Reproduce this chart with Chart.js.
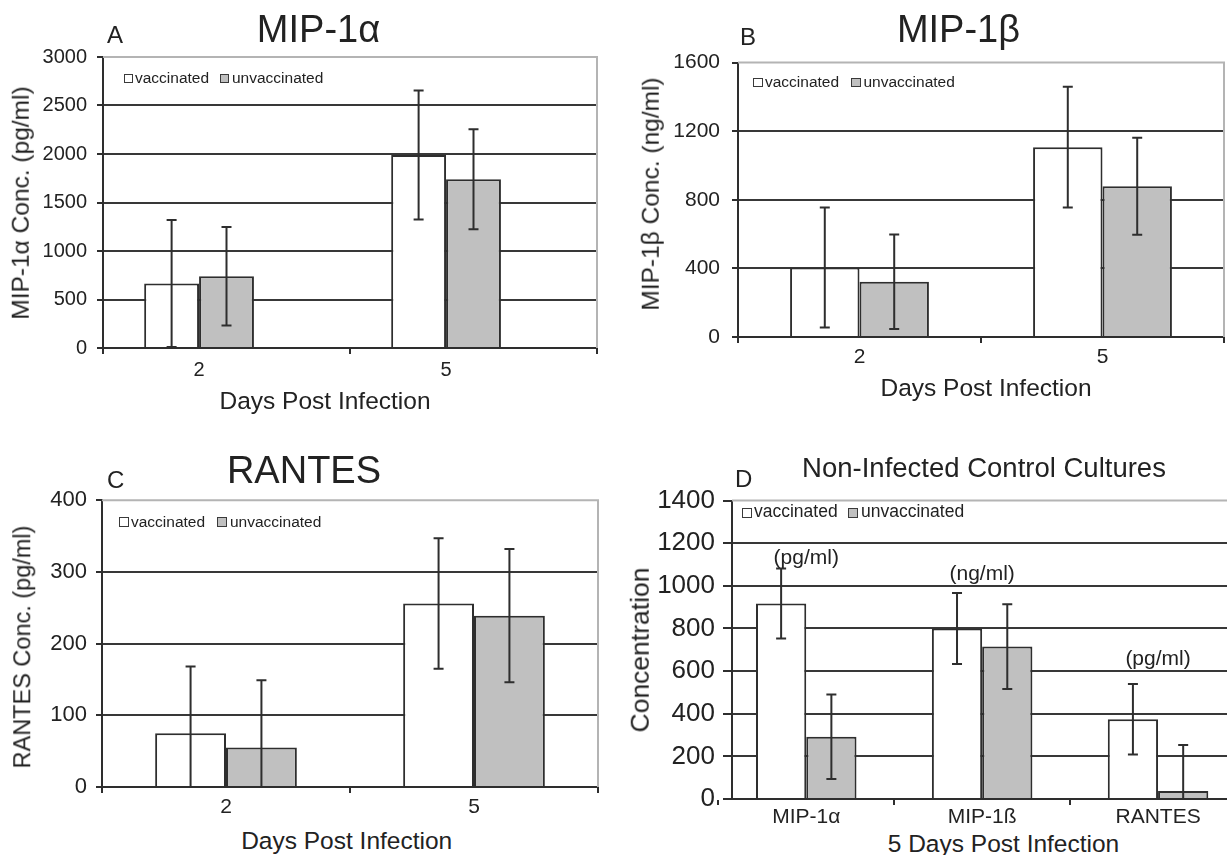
<!DOCTYPE html>
<html><head><meta charset="utf-8">
<script src="https://cdn.jsdelivr.net/npm/chart.js@4.4.1/dist/chart.umd.min.js"></script>
<style>
html,body{margin:0;padding:0;background:#fff;overflow:hidden;width:1227px;height:855px;}
#page{position:relative;width:1227px;height:855px;overflow:hidden;font-family:"Liberation Sans",Arial,sans-serif;color:#222;}
canvas{position:absolute;}
.t{position:absolute;white-space:nowrap;line-height:1;}
.sw{position:absolute;box-sizing:border-box;border:1px solid #3a3a3a;}
</style></head><body><div id="page"></div>
<script>
// ---------------- data ----------------
const seriesNames = ['vaccinated', 'unvaccinated'];
const dayLabels = ['2', '5'];

const mip1aVacc = [665, 1990];
const mip1aVaccErr = [655, 665];
const mip1aUnvacc = [740, 1740];
const mip1aUnvaccErr = [508, 515];

const mip1bVacc = [405, 1107];
const mip1bVaccErr = [350, 352];
const mip1bUnvacc = [322, 879];
const mip1bUnvaccErr = [275, 283];

const rantesVacc = [75, 256];
const rantesVaccErr = [93, 91];
const rantesUnvacc = [55, 239];
const rantesUnvaccErr = [94, 93];

const controlLabels = ['MIP-1α', 'MIP-1ß', 'RANTES'];
const controlVacc = [917, 800, 374];
const controlVaccErr = [164, 167, 165];
const controlUnvacc = [292, 715, 38];
const controlUnvaccErr = [198, 199, 215];
const controlUnits = ['(pg/ml)', '(ng/ml)', '(pg/ml)'];
const controlUnitsAt = [1130, 1053, 656];

const yTicksA = {max: 3000, step: 500};
const yTicksB = {max: 1600, step: 400};
const yTicksC = {max: 400, step: 100};
const yTicksD = {max: 1400, step: 200};

// ---------------- helpers ----------------
const FONT = '"Liberation Sans", Arial, sans-serif';
const page = document.getElementById('page');
const DARK = '#2e2e2e';
const GRID = '#383838';
const FRAME = '#b4b4b4';
const GRAY = '#c0c0c0';

function text(str, cx, baseline, size, extra) {
  const d = document.createElement('div');
  d.className = 't'; d.textContent = str;
  d.style.fontSize = size + 'px';
  d.style.top = (baseline - 0.8465 * size) + 'px';
  d.style.left = cx + 'px';
  d.style.transform = 'translateX(-50%)';
  if (extra) Object.assign(d.style, extra);
  page.appendChild(d);
  return d;
}
function ltext(str, x, baseline, size) {
  const d = document.createElement('div');
  d.className = 't'; d.textContent = str;
  d.style.fontSize = size + 'px';
  d.style.top = (baseline - 0.8465 * size) + 'px';
  d.style.left = x + 'px';
  page.appendChild(d);
}
function vtext(str, cx, cy, size) {
  const d = document.createElement('div');
  d.className = 't'; d.textContent = str;
  d.style.fontSize = size + 'px';
  d.style.left = cx + 'px'; d.style.top = cy + 'px';
  d.style.transform = 'translate(-50%,-50%) rotate(-90deg)';
  page.appendChild(d);
}
function swatch(x, y, s, fill) {
  const d = document.createElement('div');
  d.className = 'sw';
  Object.assign(d.style, {left: x + 'px', top: y + 'px', width: s + 'px', height: s + 'px', background: fill});
  page.appendChild(d);
}
function legend(l) {
  swatch(l.b1, l.base - l.box, l.box, '#ffffff');
  ltext(seriesNames[0], l.t1, l.base, l.size);
  swatch(l.b2, l.base - l.box, l.box, GRAY);
  ltext(seriesNames[1], l.b2 + l.box + 3, l.base, l.size);
}

// ---------------- plugins ----------------
const errorBars = {
  id: 'errorBars',
  afterDatasetsDraw(chart) {
    const ctx = chart.ctx, y = chart.scales.y;
    chart.data.datasets.forEach((ds, i) => {
      if (!ds.errors) return;
      const meta = chart.getDatasetMeta(i);
      meta.data.forEach((bar, j) => {
        const v = ds.data[j], e = ds.errors[j];
        if (v == null || e == null) return;
        const top = y.getPixelForValue(v + e);
        const low = v - e;
        const clipped = low <= y.min;
        const bot = y.getPixelForValue(Math.max(low, y.min));
        ctx.save();
        ctx.strokeStyle = DARK; ctx.lineWidth = 2;
        ctx.beginPath();
        ctx.moveTo(bar.x, top); ctx.lineTo(bar.x, bot);
        ctx.moveTo(bar.x - 5, top); ctx.lineTo(bar.x + 5, top);
        if (!clipped) { ctx.moveTo(bar.x - 5, bot); ctx.lineTo(bar.x + 5, bot); }
        ctx.stroke();
        ctx.restore();
      });
    });
  }
};
const frame = {
  id: 'frame',
  beforeDatasetsDraw(chart) {
    const {ctx, chartArea: a} = chart;
    ctx.save();
    ctx.strokeStyle = FRAME; ctx.lineWidth = 2;
    ctx.beginPath();
    ctx.moveTo(a.left, a.top); ctx.lineTo(a.right, a.top); ctx.lineTo(a.right, a.bottom);
    ctx.stroke();
    ctx.restore();
  }
};
const catShift = {
  id: 'catShift',
  afterLayout(chart, args, opts) {
    const px = opts && opts.px;
    if (!px) return;
    const s = chart.scales.x;
    s._startPixel -= px;
    s._length += px;
  }
};
const unitLabels = {
  id: 'unitLabels',
  afterDatasetsDraw(chart, args, opts) {
    if (!opts || !opts.labels) return;
    const {ctx} = chart, x = chart.scales.x, y = chart.scales.y;
    ctx.save();
    ctx.fillStyle = '#222';
    ctx.font = opts.size + 'px ' + FONT;
    ctx.textAlign = 'center'; ctx.textBaseline = 'middle';
    opts.labels.forEach((t, i) => ctx.fillText(t, x.getPixelForValue(i), y.getPixelForValue(opts.at[i])));
    ctx.restore();
  }
};

function makeChart(cfg) {
  const c = document.createElement('canvas');
  c.width = cfg.w; c.height = cfg.h;
  Object.assign(c.style, {left: cfg.x + 'px', top: cfg.y + 'px', width: cfg.w + 'px', height: cfg.h + 'px'});
  page.appendChild(c);
  const datasets = [
    {label: seriesNames[0], data: cfg.vacc, errors: cfg.vaccErr, backgroundColor: '#ffffff', borderColor: DARK, borderWidth: 2},
    {label: seriesNames[1], data: cfg.unvacc, errors: cfg.unvaccErr, backgroundColor: GRAY, borderColor: DARK, borderWidth: 2}
  ];
  if (cfg.spacer) datasets.push({label: '', data: cfg.labels.map(() => null), backgroundColor: 'rgba(0,0,0,0)', borderWidth: 0});
  return new Chart(c, {
    type: 'bar',
    data: {labels: cfg.labels, datasets},
    plugins: [frame, errorBars, catShift, unitLabels],
    options: {
      responsive: false, animation: false, devicePixelRatio: 1,
      datasets: {bar: {barPercentage: 1, categoryPercentage: cfg.catPct}},
      layout: {padding: {left: 0, top: 20, right: cfg.padR, bottom: 0}},
      plugins: {
        legend: {display: false}, tooltip: {enabled: false}, title: {display: false},
        catShift: {px: cfg.shift || 0},
        unitLabels: cfg.units || {}
      },
      scales: {
        x: {
          type: 'category', offset: true,
          grid: {offset: true, drawOnChartArea: false, drawTicks: true, tickLength: 6, tickColor: DARK, tickWidth: 2, color: DARK, lineWidth: 2},
          border: {display: true, color: DARK, width: 2},
          ticks: {font: {family: FONT, size: cfg.xFont}, color: '#222', padding: cfg.xPad, labelOffset: cfg.labelOffset || 0, maxRotation: 0, autoSkip: false},
          afterFit: s => { s.height = cfg.xH; }
        },
        y: {
          min: 0, max: cfg.ticks.max,
          ticks: {stepSize: cfg.ticks.step, font: {family: FONT, size: cfg.yFont}, color: '#222', padding: cfg.yPad, autoSkip: false,
                  callback: v => String(v)},
          grid: {color: ctx => (ctx.tick && ctx.tick.value === cfg.ticks.max) ? 'rgba(0,0,0,0)' : GRID, lineWidth: 2, tickLength: cfg.yTick || 6, tickColor: DARK, tickWidth: 2, drawTicks: true},
          border: {display: true, color: DARK, width: 2},
          afterFit: s => { s.width = cfg.yW; }
        }
      }
    }
  });
}

// ---------------- Panel A ----------------
makeChart({x: 13, y: 35, w: 589, h: 353, padR: 5, yW: 90, xH: 40,
  labels: dayLabels, vacc: mip1aVacc, vaccErr: mip1aVaccErr, unvacc: mip1aUnvacc, unvaccErr: mip1aUnvaccErr,
  spacer: true, catPct: 3 / 4.5, labelOffset: -27.5, ticks: yTicksA, yFont: 20, yPad: 10, xFont: 20, xPad: 4});
text('MIP-1α', 318.5, 42, 38);
ltext('A', 107, 43, 24);
legend({b1: 124, t1: 135, b2: 220, base: 83, box: 9, size: 15.5});
text('Days Post Infection', 325, 410, 24.5);
vtext('MIP-1α Conc. (pg/ml)', 21, 203, 24.5);

// ---------------- Panel B ----------------
makeChart({x: 648, y: 38, w: 579, h: 339, padR: 3, yW: 90, xH: 40,
  labels: dayLabels, vacc: mip1bVacc, vaccErr: mip1bVaccErr, unvacc: mip1bUnvacc, unvaccErr: mip1bUnvaccErr,
  catPct: 2 / 3.5, ticks: yTicksB, yFont: 21, yPad: 12, xFont: 21, xPad: 2});
text('MIP-1β', 958.5, 41.7, 38);
ltext('B', 740, 45, 24);
legend({b1: 753, t1: 765, b2: 851, base: 87, box: 9.5, size: 15.5});
text('Days Post Infection', 986, 397, 24.5);
vtext('MIP-1β Conc. (ng/ml)', 651, 193.5, 24.5);

// ---------------- Panel C ----------------
makeChart({x: 12, y: 478, w: 591, h: 349, padR: 5, yW: 90, xH: 40,
  labels: dayLabels, vacc: rantesVacc, vaccErr: rantesVaccErr, unvacc: rantesUnvacc, unvaccErr: rantesUnvaccErr,
  catPct: 2 / 3.5, ticks: yTicksC, yFont: 22, yPad: 9, xFont: 21, xPad: 2});
text('RANTES', 304, 483, 38);
ltext('C', 107, 488, 24);
legend({b1: 119, t1: 131, b2: 217, base: 527, box: 10, size: 15.5});
text('Days Post Infection', 346.7, 850, 24.5);
vtext('RANTES Conc. (pg/ml)', 23, 647, 23.5);

// ---------------- Panel D ----------------
makeChart({x: 642, y: 477, w: 604, h: 352, padR: 0, yW: 90, xH: 30,
  labels: controlLabels, vacc: controlVacc, vaccErr: controlVaccErr, unvacc: controlUnvacc, unvaccErr: controlUnvaccErr,
  catPct: 2 / 3.5, shift: 13.7, ticks: yTicksD, yFont: 26, yPad: 8, yTick: 9, xFont: 21, xPad: 0,
  units: {labels: controlUnits, at: controlUnitsAt, size: 21}});
text('Non-Infected Control Cultures', 984, 477, 27.5);
ltext('D', 735, 487, 24);
legend({b1: 742, t1: 754, b2: 848, base: 518, box: 10, size: 17.5});
text('5 Days Post Infection', 1003.5, 853, 24.5);
vtext('Concentration', 640, 650, 26.5);
</script>
</body></html>
